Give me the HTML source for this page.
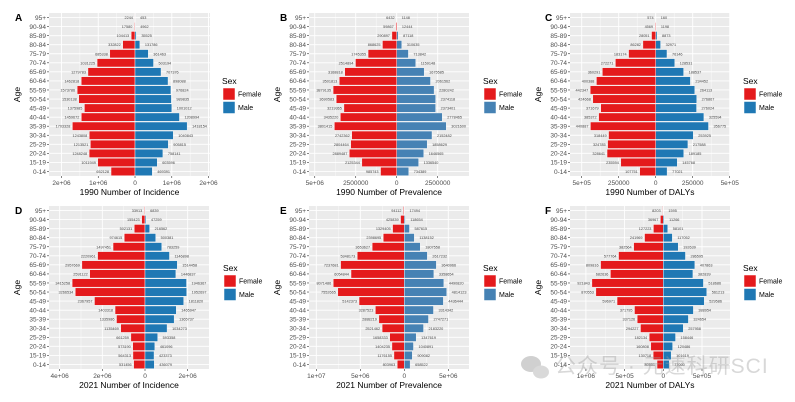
<!DOCTYPE html>
<html><head><meta charset="utf-8">
<style>
html,body{margin:0;padding:0;background:#fff;}
svg{display:block;font-family:"Liberation Sans","Noto Sans CJK SC",sans-serif;}
</style></head>
<body>
<svg id="chart" width="795" height="402" viewBox="0 0 795 402" xmlns="http://www.w3.org/2000/svg">
<g opacity="0.55">
  <ellipse cx="531" cy="364" rx="10" ry="8" fill="#aaa"/>
  <ellipse cx="541" cy="372" rx="8" ry="6.5" fill="#bbb"/>
</g>
</svg>
<script>
var ages = ["95+","90-94","85-89","80-84","75-79","70-74","65-69","60-64","55-59","50-54","45-49","40-44","35-39","30-34","25-29","20-24","15-19","0-14"];

var femaleA = [2244,17580,104413,332822,685338,1031225,1279783,1462818,1573786,1530138,1375985,1459672,1703328,1243808,1213521,1248248,1011949,652128];
var maleA = [453,4962,35525,131786,361463,503194,707376,898088,976824,989835,1001012,1208994,1418154,1040843,905815,758141,603596,469391];
var femaleB = [6432,59867,290897,868625,1745355,2514894,3168818,3501813,3879135,3690583,3219365,3435220,3801415,2742362,2804464,2889487,2125344,985743];
var maleB = [1148,12444,87118,310635,713842,1159148,1675585,2061562,2280242,2374118,2373401,2778465,3021600,2152482,1858629,1646565,1336540,734389];
var femaleC = [574,4569,28051,86282,183174,272271,360291,400388,442347,424668,371679,385372,440887,318449,324785,328641,235594,107751];
var maleC = [160,1198,8873,32971,76146,128531,188537,234452,264113,276867,276024,325594,356775,253925,217588,189185,145768,77021];
var femaleD = [33913,155423,502131,974615,1497451,2220961,2957669,2591122,3415258,3266534,2367957,1403318,1335986,1135469,661259,573190,564313,531456];
var maleD = [6839,47259,216562,500381,783259,1146898,1514458,1446837,1946367,1952697,1811820,1465947,1365737,1034273,593358,461096,423373,436079];
var femaleE = [94112,425839,1329405,2398695,3653627,5348173,7237681,6054844,8071486,7552665,5142373,3287523,2888219,2521462,1658333,1404235,1176155,803963];
var maleE = [17494,118654,587615,1138152,1807558,2617232,3640966,3358654,4490820,4814123,4436444,3314342,2747271,2183220,1347619,1040891,909082,658522];
var femaleF = [8203,36967,127223,241969,382564,577764,809816,682636,921843,870553,596971,371795,337126,294227,182134,160808,130718,80551];
var maleF = [1595,11266,58101,117052,192639,286595,407863,382839,518686,561213,529586,388954,324654,257958,158446,120486,101619,77000];

var ticksA = [-2e6,-1e6,0,1e6,2e6]; var tickLabelsA = ["2e+06","1e+06","0","1e+06","2e+06"];
var ticksB = [-5e6,-2.5e6,0,2.5e6]; var tickLabelsB = ["5e+06","2500000","0","2500000"];
var ticksC = [-5e5,-2.5e5,0,2.5e5,5e5]; var tickLabelsC = ["5e+05","250000","0","250000","5e+05"];
var ticksD = [-4e6,-2e6,0,2e6]; var tickLabelsD = ["4e+06","2e+06","0","2e+06"];
var ticksE = [-1e7,-5e6,0,5e6]; var tickLabelsE = ["1e+07","5e+06","0","5e+06"];
var ticksF = [-1e6,-5e5,0,5e5]; var tickLabelsF = ["1e+06","5e+05","0","5e+05"];

var NS = "http://www.w3.org/2000/svg";
var svg = document.getElementById('chart');
var wm = svg.firstElementChild;
function mk(tag, attrs, parent){ var e=document.createElementNS(NS,tag); for(var k in attrs) e.setAttribute(k,attrs[k]); (parent||svg).appendChild(e); return e; }

var panels = [
 {id:"a",letter:"A",ox:0,oy:0,left:49,right:210,dom:[-2.34e6,2.04e6],f:femaleA,m:maleA,t:ticksA,tl:tickLabelsA,title:"1990 Number of Incidence",blue:"#1F78B4",legX:222},
 {id:"b",letter:"B",ox:265,oy:0,left:44,right:204,dom:[-5.35e6,4.41e6],f:femaleB,m:maleB,t:ticksB,tl:tickLabelsB,title:"1990 Number of Prevalence",blue:"#4682B4",legX:218},
 {id:"c",letter:"C",ox:530,oy:0,left:40,right:200,dom:[-5.79e5,5.02e5],f:femaleC,m:maleC,t:ticksC,tl:tickLabelsC,title:"1990 Number of DALYs",blue:"#1F78B4",legX:213},
 {id:"d",letter:"D",ox:0,oy:193,left:49,right:209,dom:[-4.5e6,3.0e6],f:femaleD,m:maleD,t:ticksD,tl:tickLabelsD,title:"2021 Number of Incidence",blue:"#1F78B4",legX:223},
 {id:"e",letter:"E",ox:265,oy:193,left:44,right:204,dom:[-10.83e6,7.35e6],f:femaleE,m:maleE,t:ticksE,tl:tickLabelsE,title:"2021 Number of Prevalence",blue:"#4682B4",legX:218},
 {id:"f",letter:"F",ox:530,oy:193,left:40,right:200,dom:[-1.205e6,0.862e6],f:femaleF,m:maleF,t:ticksF,tl:tickLabelsF,title:"2021 Number of DALYs",blue:"#1F78B4",legX:213}
];

panels.forEach(function(p){
  var g = mk('g',{transform:'translate('+p.ox+','+p.oy+')'});
  
  
  var top=13, bot=176;
  var x = function(v){ return p.left + (v-p.dom[0])/(p.dom[1]-p.dom[0])*(p.right-p.left); };
  var band = (bot-top)/ages.length;
  var y = function(i){ return top + band*(i+0.5); };
  var bg = mk('rect',{x:p.left,y:top,width:p.right-p.left,height:bot-top,fill:'#EBEBEB'},g);
  
  
  // minor grid
  for(var k=0;k<p.t.length-1;k++){
    var mv=(p.t[k]+p.t[k+1])/2;
    mk('line',{x1:x(mv),x2:x(mv),y1:top,y2:bot,stroke:'#fff','stroke-width':0.4},g);
  }
  p.t.forEach(function(tv,k){
    mk('line',{x1:x(tv),x2:x(tv),y1:top,y2:bot,stroke:'#fff','stroke-width':0.9},g);
    mk('line',{x1:x(tv),x2:x(tv),y1:bot,y2:bot+2,stroke:'#333','stroke-width':0.6},g);
    var tl = mk('text',{x:x(tv),y:bot+9,'font-size':6.5,fill:'#4D4D4D','text-anchor':'middle'},g);
    tl.textContent = p.tl[k];
    
    
  });
  ages.forEach(function(a,i){
    mk('line',{x1:p.left,x2:p.right,y1:y(i),y2:y(i),stroke:'#fff','stroke-width':0.9},g);
    mk('line',{x1:p.left-2,x2:p.left,y1:y(i),y2:y(i),stroke:'#333','stroke-width':0.6},g);
    var al = mk('text',{x:p.left-3,y:y(i)+2.3,'font-size':6.5,fill:'#4D4D4D','text-anchor':'end'},g);
    al.textContent = a;
    
    
  });
  var bh = band*0.92;
  ages.forEach(function(a,i){
    var fv=p.f[i], mv=p.m[i];
    var fb = mk('rect',{x:x(-fv),y:y(i)-bh/2,width:x(0)-x(-fv),height:bh,fill:'#E41A1C',stroke:'#fff','stroke-width':0.4},g);
    
    
    var mb = mk('rect',{x:x(0),y:y(i)-bh/2,width:x(mv)-x(0),height:bh,fill:p.blue,stroke:'#fff','stroke-width':0.4},g);
    
    
    var ft = mk('text',{x:x(-fv)-2,y:y(i)+1.5,'font-size':3.8,fill:'#444','text-anchor':'end'},g);
    ft.textContent = fv;
    
    
    var mt = mk('text',{x:x(mv)+5,y:y(i)+1.5,'font-size':3.8,fill:'#444','text-anchor':'start'},g);
    mt.textContent = mv;
    
    
  });
  var lt = mk('text',{x:15,y:21,'font-size':10,'font-weight':'bold',fill:'#000'},g);
  lt.textContent = p.letter;
  
  
  var yt = mk('text',{x:0,y:0,'font-size':8.5,fill:'#000','text-anchor':'middle',transform:'translate('+(p.left-29)+','+((top+bot)/2)+') rotate(-90)'},g);
  yt.textContent = 'Age';
  
  
  var xt = mk('text',{x:(p.left+p.right)/2,y:bot+19,'font-size':8.5,fill:'#000','text-anchor':'middle'},g);
  xt.textContent = p.title;
  
  
  var lg = mk('g',{},g);
  
  
  var ly = p.oy ? 78 : 84;
  var st = mk('text',{x:p.legX,y:ly,'font-size':8.5,fill:'#000'},lg);
  st.textContent='Sex';
  
  
  [['Female','#E41A1C'],['Male',p.blue]].forEach(function(it,j){
    var r = mk('rect',{x:p.legX+1,y:ly+4+j*13.5,width:12,height:12,fill:it[1],stroke:'#fff','stroke-width':0.5},lg);
    
    
    var tx = mk('text',{x:p.legX+16,y:ly+12.5+j*13.5,'font-size':7,fill:'#000'},lg);
    tx.textContent = it[0];
    
    
  });
});
var wt = mk('text',{x:555,y:373,'font-size':21,fill:'#9a9a9a','fill-opacity':0.7,'letter-spacing':1},wm);
wt.textContent = '公众号 · 元速科研SCI';


svg.appendChild(wm);
</script>
</body></html>
